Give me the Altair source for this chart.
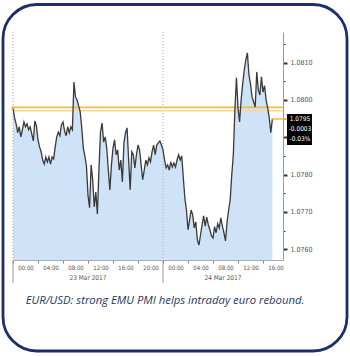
import altair as alt
import pandas as pd

# EUR/USD intraday, 15-minute samples from 23 Mar 2017 00:00
prices = [
    1.07979, 1.07952, 1.07936, 1.07912, 1.07928, 1.07901, 1.07920, 1.07941, 1.07928, 1.07936,
    1.07920, 1.07928, 1.07909, 1.07890, 1.07944, 1.07930, 1.07893, 1.07874, 1.07861, 1.07839,
    1.07828, 1.07847, 1.07834, 1.07847, 1.07828, 1.07847, 1.07842, 1.07874, 1.07901, 1.07914,
    1.07904, 1.07933, 1.07941, 1.07917, 1.07904, 1.07928, 1.07912, 1.07928, 1.07920, 1.08048,
    1.08008, 1.08000, 1.07984, 1.07968, 1.07925, 1.07871, 1.07850, 1.07823, 1.07745, 1.07711,
    1.07826, 1.07786, 1.07713, 1.07753, 1.07694, 1.07812, 1.07914, 1.07938, 1.07887, 1.07901,
    1.07871, 1.07812, 1.07759, 1.07826, 1.07871, 1.07893, 1.07853, 1.07866, 1.07812, 1.07839,
    1.07780, 1.07885, 1.07912, 1.07925, 1.07839, 1.07759, 1.07861, 1.07853, 1.07818, 1.07853,
    1.07879, 1.07866, 1.07826, 1.07786, 1.07812, 1.07839, 1.07826, 1.07845, 1.07834, 1.07861,
    1.07879, 1.07853, 1.07879, 1.07885, 1.07890, 1.07879, 1.07866, 1.07839, 1.07818, 1.07826,
    1.07812, 1.07834, 1.07820, 1.07831, 1.07820, 1.07839, 1.07853, 1.07839, 1.07850, 1.07791,
    1.07737, 1.07705, 1.07652, 1.07678, 1.07705, 1.07692, 1.07657, 1.07673, 1.07625, 1.07611,
    1.07638, 1.07665, 1.07689, 1.07662, 1.07686, 1.07665, 1.07652, 1.07636, 1.07630, 1.07660,
    1.07644, 1.07668, 1.07657, 1.07684, 1.07662, 1.07644, 1.07622, 1.07673, 1.07705, 1.07732,
    1.07799, 1.07853, 1.07973, 1.08059, 1.07979, 1.07941, 1.08000, 1.08043, 1.08080, 1.08107,
    1.08126, 1.08067, 1.08043, 1.08008, 1.07995, 1.07981, 1.08075, 1.08027, 1.08013, 1.08062,
    1.08021, 1.08038, 1.08000, 1.07979, 1.07952, 1.07912, 1.07949,
]
start_time = "2017-03-23 00:00"
ref_levels = [1.07980, 1.07971]
ref_colors = ["#f2bd3c", "#f7d88c"]
y_tick_values = [1.0760, 1.0765, 1.0770, 1.0775, 1.0780, 1.0785, 1.0790, 1.0795,
                 1.0800, 1.0805, 1.0810, 1.0815]
hidden_label = 1.0790  # covered by the last-price box
day_labels = ["23 Mar 2017", "24 Mar 2017"]
day_label_times = ["2017-03-23 12:00", "2017-03-24 09:36"]
day_starts = ["2017-03-23 00:00", "2017-03-24 00:00"]
last_box_text = "1.0795\n-0.0003\n-0.03%"
caption = "EUR/USD: strong EMU PMI helps intraday euro rebound."

times = pd.date_range(start_time, periods=len(prices), freq="15min")
df = pd.DataFrame({"t": times, "p": prices})
ref_df = pd.DataFrame({"level": ref_levels, "c": ref_colors})
days_df = pd.DataFrame({"t": pd.to_datetime(day_starts)})
day_lab_df = pd.DataFrame({"t": pd.to_datetime(day_label_times), "label": day_labels})
last_df = pd.DataFrame({"t": [times[-1]], "p": [prices[-1]]})

W, H = 270, 228

x_vals = [alt.DateTime(year=2017, month=3, date=d, hours=h)
          for d in (23, 24) for h in (0, 4, 8, 12, 16, 20)][:11]
x_scale = alt.Scale(domain=[alt.DateTime(year=2017, month=3, date=23, hours=0),
                            alt.DateTime(year=2017, month=3, date=24, hours=19, minutes=12)])
y_scale = alt.Scale(domain=[1.07571, 1.08182], zero=False, nice=False)

axis_font = "Liberation Sans Narrow, DejaVu Sans Condensed, Liberation Sans, sans-serif"
major = "round(datum.value*10000) % 10 == 0"
hidden = f"round(datum.value*10000) == {round(hidden_label * 10000)}"

x_axis = alt.Axis(
    values=x_vals, format="%H:%M", title=None, labelOffset=12.5, labelFontSize=6,
    labelFont=axis_font, labelColor="#555", tickColor="#888", tickSize=3,
    domainColor="#aaa", labelPadding=1, grid=False, labelOverlap=False,
    labelFlush=False, labelBound=False)
y_axis = alt.Axis(
    orient="right", values=y_tick_values, title=None, grid=False,
    labelExpr=f"({major}) && !({hidden}) ? format(datum.value, '.4f') : ''",
    labelFontSize=7, labelFont=axis_font, labelColor="#555", labelPadding=3,
    tickColor="#333",
    tickSize={"condition": {"test": major, "value": 4}, "value": 2},
    tickWidth={"condition": {"test": major, "value": 2}, "value": 1},
    domainColor="#999", labelOverlap=False, labelFlush=False, labelBound=False)

x_enc = alt.X("t:T", scale=x_scale, axis=x_axis)
y_enc = alt.Y("p:Q", scale=y_scale, axis=y_axis)

base = alt.Chart(df)
area = base.mark_area(color="#cfe3f8", clip=True).encode(x=x_enc, y=y_enc)
line = base.mark_line(color="#3a3a3a", strokeWidth=1.3).encode(x=x_enc, y=y_enc)

grid_dotted = alt.Chart(days_df).mark_rule(color="#aaaaaa", strokeDash=[1, 2], strokeWidth=1).encode(
    x=x_enc, y=alt.value(0), y2=alt.value(H))
grid_below = alt.Chart(days_df).mark_rule(color="#999999", strokeWidth=1).encode(
    x=x_enc, y=alt.value(H), y2=alt.value(H + 23))

refs = alt.Chart(ref_df).mark_rule(strokeWidth=1.6).encode(
    y=alt.Y("level:Q", scale=y_scale, axis=y_axis), color=alt.Color("c:N", scale=None))

last_rule = alt.Chart(last_df).mark_rule(color="#f2bd3c", strokeWidth=1.6).encode(
    x=x_enc, x2=alt.value(W + 4), y=y_enc)

start_tri = alt.Chart(pd.DataFrame({"t": [times[0]], "p": [ref_levels[0]]})).mark_point(
    shape="triangle-up", filled=True, color="#e9b22e", size=18, opacity=1).encode(x=x_enc, y=y_enc)

day_text = alt.Chart(day_lab_df).mark_text(
    fontSize=6.5, font=axis_font, color="#555", baseline="middle").encode(
    x=x_enc, y=alt.value(H + 18), text="label:N")

box = alt.Chart(pd.DataFrame({"a": [0]})).mark_rect(color="#000000").encode(
    x=alt.value(W + 4), x2=alt.value(W + 29), y=alt.value(82), y2=alt.value(113))
box_text = alt.Chart(pd.DataFrame({"txt": [last_box_text]})).mark_text(
    color="white", fontSize=6.5, font=axis_font, baseline="middle", align="center",
    lineBreak="\n", lineHeight=10).encode(
    x=alt.value(W + 17), y=alt.value(87), text="txt:N")

cap = alt.Chart(pd.DataFrame({"txt": [caption]})).mark_text(
    font="Open Sans, Noto Sans, sans-serif", fontStyle="italic", fontSize=11.3,
    color="#1f3864", align="center", baseline="middle").encode(
    x=alt.value(152), y=alt.value(269), text="txt:N")

border = alt.Chart(pd.DataFrame({"a": [0]})).mark_rect(
    fillOpacity=0, stroke="#1c2f6b", strokeWidth=2.8, cornerRadius=34).encode(
    x=alt.value(-10), x2=alt.value(334), y=alt.value(-27.5), y2=alt.value(319))

chart = alt.layer(
    area, grid_dotted, grid_below, refs, line, last_rule, start_tri, day_text,
    box, box_text, cap, border
).properties(
    width=W, height=H,
    autosize=alt.AutoSizeParams(type="none"),
    padding={"left": 13, "top": 32, "right": 67, "bottom": 96},
    background="white",
).configure_view(stroke=None).configure_axis(labelOverlap=False)

chart.save("out.html", embed_options={"renderer": "svg", "actions": False})
